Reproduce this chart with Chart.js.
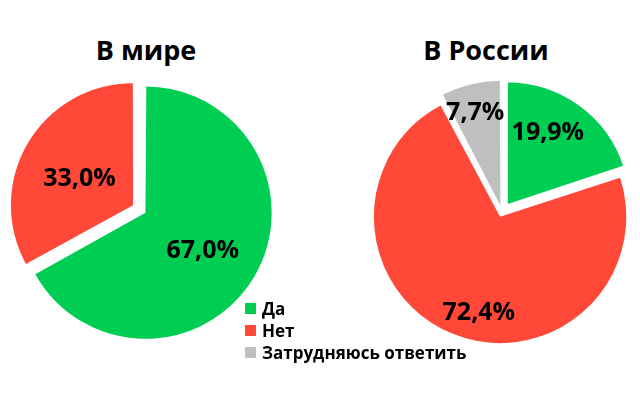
<!DOCTYPE html>
<html>
<head>
    <meta charset="utf-8">
    <title>Да / Нет</title>
    <style>
        body { margin: 0; width: 640px; height: 396px; background: #fff; position: relative; overflow: hidden; font-family: 'Open Sans', sans-serif; }
        .title { position: absolute; font-weight: bold; font-size: 27px; color: #000; text-align: center; width: 240px; top: 34px; line-height: 32px; }
        .box { position: absolute; }
        #legend { position: absolute; left: 245px; top: 297px; z-index: 5; }
        .item { display: flex; align-items: center; height: 22px; font-weight: bold; font-size: 17px; color: #000; }
        .item span.sw { width: 11px; height: 11px; margin-right: 6px; }
    </style>
</head>
<body>
    <div class="title" style="left: 26px;">В мире</div>
    <div class="title" style="left: 366px;">В России</div>
    <canvas id="worldChart" class="box" width="282" height="320" style="left: 0; top: 50px;"></canvas>
    <canvas id="russiaChart" class="box" width="276" height="320" style="left: 364px; top: 52px;"></canvas>
    <div id="legend"></div>

    <script src="https://cdn.jsdelivr.net/npm/chart.js"></script>
    <script>
        const categories = ['Да', 'Нет', 'Затрудняюсь ответить'];
        const colors = ['#00CE52', '#FF4838', '#BFBFBF'];
        const worldValues = [67.0, 33.0];
        const russiaValues = [19.9, 72.4, 7.7];

        const EXPLODE = 10.4;

        // Chart.js moves an arc by offset/4 * (1 + fix); pick offset so every slice moves EXPLODE px
        function explodeOffset(ctx) {
            const data = ctx.dataset.data;
            const total = data.reduce((a, b) => a + b, 0);
            const circ = 2 * Math.PI * data[ctx.dataIndex] / total;
            const fix = 1 - Math.sin(Math.min(Math.PI, circ));
            return 4 * EXPLODE / (1 + fix);
        }

        const fmt = v => v.toFixed(1).replace('.', ',') + '%';

        const sliceLabels = {
            id: 'sliceLabels',
            afterDatasetsDraw(chart, args, opts) {
                const ctx = chart.ctx;
                const meta = chart.getDatasetMeta(0);
                const data = chart.data.datasets[0].data;
                const size = 25;
                ctx.save();
                ctx.font = 'bold ' + size + 'px "Open Sans"';
                ctx.fillStyle = '#000';
                ctx.textAlign = 'center';
                ctx.textBaseline = 'alphabetic';
                meta.data.forEach((arc, i) => {
                    const p = arc.getProps(['x', 'y', 'startAngle', 'endAngle', 'outerRadius', 'circumference']);
                    const half = (p.startAngle + p.endAngle) / 2;
                    const off = (arc.options.offset || 0) / 4;
                    const fix = 1 - Math.sin(Math.min(Math.PI, p.circumference));
                    const t = off * (1 + fix);
                    const cx = p.x + Math.cos(half) * t;
                    const cy = p.y + Math.sin(half) * t;
                    const place = (opts.place && opts.place[i]) || {};
                    const ang = place.a !== undefined ? (place.a - 90) * Math.PI / 180 : half;
                    const r = (place.r || 0.5) * p.outerRadius;
                    ctx.fillText(fmt(data[i]), cx + Math.cos(ang) * r, cy + Math.sin(ang) * r + size * 0.357);
                });
                ctx.restore();
            }
        };

        function makePie(id, values, place) {
            return new Chart(document.getElementById(id), {
                type: 'pie',
                data: {
                    labels: categories.slice(0, values.length),
                    datasets: [{
                        data: values,
                        backgroundColor: colors.slice(0, values.length),
                        borderWidth: 0,
                        offset: explodeOffset,
                        hoverOffset: 0,
                        clip: false
                    }]
                },
                options: {
                    responsive: false,
                    animation: false,
                    radius: 121,
                    layout: { padding: 0 },
                    events: [],
                    plugins: {
                        legend: { display: false },
                        tooltip: { enabled: false },
                        sliceLabels: { place: place }
                    }
                },
                plugins: [sliceLabels]
            });
        }

        makePie('worldChart', worldValues, [{ r: 0.52, a: 123 }, { r: 0.49, a: 297.6 }]);
        makePie('russiaChart', russiaValues, [{ r: 0.68, a: 28.9 }, { r: 0.755, a: 192.2 }, { r: 0.78, a: 345.1 }]);

        const legend = document.getElementById('legend');
        categories.forEach((name, i) => {
            const row = document.createElement('div');
            row.className = 'item';
            row.innerHTML = '<span class="sw" style="background:' + colors[i] + '"></span>' + name;
            legend.appendChild(row);
        });
    </script>
</body>
</html>
